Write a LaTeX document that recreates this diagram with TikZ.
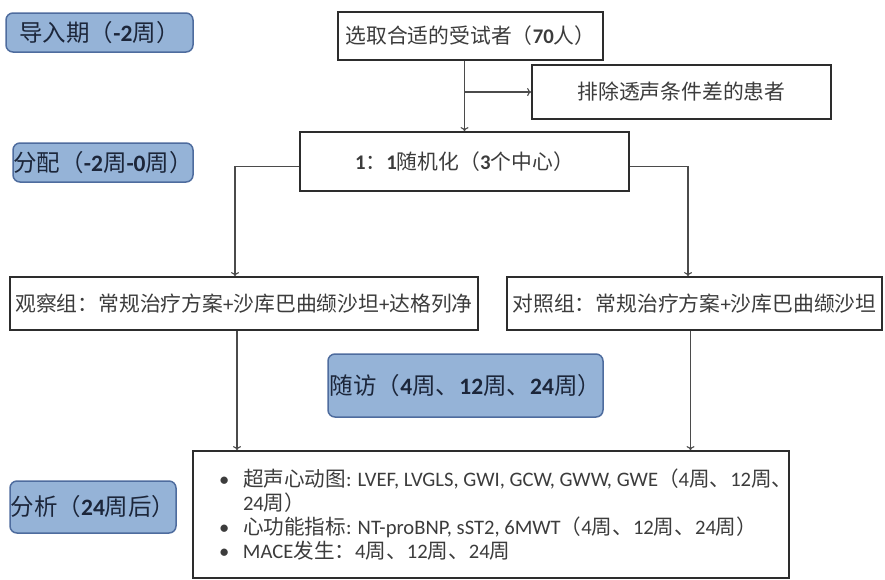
\documentclass[tikz,border=0pt]{standalone}
\usepackage{fontspec}
\setmainfont{Noto Sans CJK SC}
\newfontfamily\en{Carlito}
\usetikzlibrary{positioning, arrows.meta}
\definecolor{bluefill}{RGB}{149,179,215}
\definecolor{blueline}{RGB}{78,108,158}
\definecolor{bluetext}{RGB}{28,38,58}
\definecolor{boxline}{RGB}{45,45,45}
\definecolor{boxtext}{RGB}{60,60,60}
\definecolor{connline}{RGB}{75,75,75}
\newcommand{\lat}[1]{{\en\bfseries #1}} % latin digits in the boxes
\newcommand{\rlat}[1]{{\en #1}}
\newcommand{\bitem}[1]{\makebox[566pt][l]{\hspace{11pt}\makebox[24pt][l]{\en •}#1}}
\newcommand{\bcont}[1]{\makebox[566pt][l]{\hspace{35pt}#1}}
\tikzset{
    wbox/.style={ % plain step boxes
        draw=boxline, line width=1.8pt,
        fill=white, text=boxtext,
        font=\fontsize{20.8}{24}\selectfont,
        inner sep=0pt
    },
    phasebox/.style={ % blue phase labels on the left
        draw=blueline, line width=1.5pt,
        fill=bluefill, text=bluetext,
        rounded corners=7pt,
        font=\fontsize{23.5}{26}\selectfont,
        inner sep=0pt
    },
    conn/.style={ % connectors
        draw=connline, line width=1.1pt,
        -{To[length=4pt,width=8pt]}
    }
}
\begin{document}
\begin{tikzpicture}[x=1pt, y=-1pt]
    \useasboundingbox (0,0) rectangle (885,579);
    % phases
    \node[phasebox, minimum width=187pt, minimum height=39pt] (lead) at (99.5,32.5) {导入期（\lat{-2}周）};
    \node[phasebox, minimum width=180pt, minimum height=39pt] (alloc) at (103,162.5) {分配（\lat{-2}周\lat{-0}周）};
    \node[phasebox, minimum width=275pt, minimum height=63pt] (follow) at (465.5,385.5) {随访（\lat{4}周、\lat{12}周、\lat{24}周）};
    \node[phasebox, minimum width=166pt, minimum height=52pt] (anal) at (93,507) {分析（\lat{24}周后）};
    % flow
    \node[wbox, minimum width=265pt, minimum height=48pt] (select) at (470.5,36) {选取合适的受试者（\lat{70}人）};
    \node[wbox, minimum width=299pt, minimum height=54pt] (excl) at (681.5,92) {排除透声条件差的患者};
    \node[wbox, minimum width=329pt, minimum height=59pt] (rand) at (464.5,161.5) {\lat{1}：\lat{1}随机化（\lat{3}个中心）};
    \node[wbox, minimum width=468pt, minimum height=53pt] (obs) at (244,303.5) {观察组：常规治疗方案\rlat{+}沙库巴曲缬沙坦\rlat{+}达格列净};
    \node[wbox, minimum width=375pt, minimum height=53pt] (ctrl) at (694.5,303.5) {对照组：常规治疗方案\rlat{+}沙库巴曲缬沙坦};
    \node[wbox, minimum width=596pt, minimum height=127pt, align=left, font=\fontsize{20.6}{24}\selectfont] (result) at (491,514.5) {%
        \bitem{超声心动图\rlat{: LVEF, LVGLS, GWI, GCW, GWW, GWE}（\rlat{4}周、\rlat{12}周、}\\
        \bcont{\rlat{24}周）}\\
        \bitem{心功能指标\rlat{: NT-proBNP, sST2, 6MWT}（\rlat{4}周、\rlat{12}周、\rlat{24}周）}\\
        \bitem{\rlat{MACE}发生：\rlat{4}周、\rlat{12}周、\rlat{24}周}};

    \draw[conn] (rand.north |- select.south) -- (rand.north);
    \draw[conn] (rand.north |- excl.west) -- (excl.west);
    \draw[conn] ([yshift=-5pt]rand.west) -| ([xshift=-9pt]obs.north);
    \draw[conn] ([yshift=-5pt]rand.east) -| ([xshift=-6.5pt]ctrl.north);
    \draw[conn] ([xshift=-7pt]obs.south) -- ([xshift=-7pt]obs.south |- result.north);
    \draw[conn] ([xshift=-4pt]ctrl.south) -- ([xshift=-4pt]ctrl.south |- result.north);
\end{tikzpicture}
\end{document}
